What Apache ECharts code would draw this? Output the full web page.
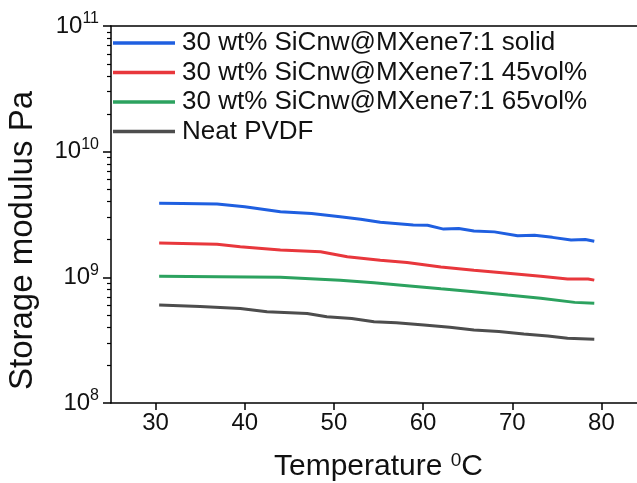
<!DOCTYPE html>
<html><head><meta charset="utf-8">
<script src="https://cdn.jsdelivr.net/npm/echarts@6/dist/echarts.min.js"></script>
<style>html,body{margin:0;padding:0;background:#fff}#c{width:637px;height:483px}</style>
</head><body><div id="c"></div>
<script>
var seriesNames = ["30 wt% SiCnw@MXene7:1 solid","30 wt% SiCnw@MXene7:1 45vol%","30 wt% SiCnw@MXene7:1 65vol%","Neat PVDF"];
var solidT = [30.4,33,36.9,40,44,47.5,50.7,53,55.2,58.9,60.5,62.3,64,65.7,68,70.6,72.5,74.5,76.6,78.2,79.2];
var solidV = [3.88e9,3.87e9,3.83e9,3.65e9,3.33e9,3.22e9,3.03e9,2.9e9,2.74e9,2.61e9,2.6e9,2.42e9,2.45e9,2.34e9,2.3e9,2.14e9,2.16e9,2.08e9,1.98e9,2.0e9,1.94e9];
var vol45T = [30.4,36.9,39.5,44,48.5,51.5,55.2,58.2,62,65.7,69.5,73.2,76.2,78.5,79.2];
var vol45V = [1.88e9,1.83e9,1.75e9,1.65e9,1.6e9,1.46e9,1.37e9,1.31e9,1.21e9,1.14e9,1.08e9,1.02e9,0.97e9,0.97e9,0.95e9];
var vol65T = [30.4,37,44,50.7,54.5,58.2,62,65.7,69.5,73.2,77,79.2];
var vol65V = [1.02e9,1.01e9,1.0e9,0.95e9,0.905e9,0.858e9,0.81e9,0.769e9,0.722e9,0.681e9,0.632e9,0.621e9];
var neatT = [30.4,35,39.5,42.5,47,49.2,52,54.5,57,60.1,63,65.7,68.5,71.3,74,76.2,79.2];
var neatV = [6.03e8,5.85e8,5.66e8,5.32e8,5.16e8,4.85e8,4.7e8,4.43e8,4.35e8,4.18e8,4.0e8,3.81e8,3.7e8,3.54e8,3.42e8,3.27e8,3.21e8];
var colors = ["#1f5fe0","#e8373c","#2ca25f","#4d4d4d"];
var xTicks = [30,40,50,60,70,80];
var yMajor = [1e8,1e9,1e10,1e11];
var yMinor = [2e8,3e8,4e8,5e8,6e8,7e8,8e8,9e8,2e9,3e9,4e9,5e9,6e9,7e9,8e9,9e9,2e10,3e10,4e10,5e10,6e10,7e10,8e10,9e10];

function pairs(t, v){ return t.map(function(x,i){ return [x, v[i]]; }); }
var allData = [pairs(solidT,solidV), pairs(vol45T,vol45V), pairs(vol65T,vol65V), pairs(neatT,neatV)];
var font = "Liberation Sans, Arial, sans-serif";
var W = 637, gridLeft = 111, gridRight = -9;
var chart = echarts.init(document.getElementById('c'));
chart.setOption({
  animation: false,
  backgroundColor: '#fff',
  grid: {left: gridLeft, top: 26, right: gridRight, bottom: 80, show: false, outerBoundsMode: 'none', containLabel: false},
  legend: {
    orient: 'vertical', left: 113, top: 30, padding: 0, itemGap: 3.5,
    itemWidth: 62, itemHeight: 3.5, icon: 'rect',
    textStyle: {fontFamily: font, fontSize: 26, color: '#111', lineHeight: 24, padding: [0,0,0,2]},
    data: seriesNames
  },
  xAxis: [{
    type: 'value', min: 25, max: 85, interval: 5,
    axisLine: {lineStyle: {color: '#000', width: 1.5}},
    axisTick: {show: true, length: 7, lineStyle: {color: '#000', width: 1.5}, customValues: xTicks},
    minorTick: {show: false},
    splitLine: {show: false},
    axisLabel: {fontFamily: font, fontSize: 24, color: '#111', margin: 8, customValues: xTicks, hideOverlap: false},
    name: 'Temperature {sup|0}C', nameLocation: 'middle', nameGap: 48,
    nameTextStyle: {fontFamily: font, fontSize: 30, color: '#111', rich: {sup: {fontFamily: font, fontSize: 19, verticalAlign: 'top', padding: [0,0,12,0], color: '#111'}}}
  }, {
    type: 'value', min: 25, max: 85, position: 'top',
    axisLine: {show: true, lineStyle: {color: '#000', width: 1.5}},
    axisTick: {show: false}, axisLabel: {show: false}, splitLine: {show: false}
  }],
  yAxis: [{
    type: 'log', logBase: 10, min: 1e8, max: 1e11, position: 'left',
    axisLine: {lineStyle: {color: '#000', width: 1.5}},
    axisTick: {show: true, length: 8, lineStyle: {color: '#000', width: 1.5}, customValues: yMajor},
    splitLine: {show: false},
    axisLabel: {
      fontFamily: font, fontSize: 24, color: '#111', margin: 12, customValues: yMajor,
      formatter: function(v){ return '10{s|' + Math.round(Math.log10(v)) + '}'; },
      rich: {s: {fontFamily: font, fontSize: 16, color: '#111', padding: [0,0,14,0]}}
    },
    name: 'Storage modulus Pa', nameLocation: 'middle', nameGap: 72,
    nameTextStyle: {fontFamily: font, fontSize: 33, color: '#111', padding: [0,52,0,0]}
  }, {
    type: 'log', logBase: 10, min: 1e8, max: 1e11, position: 'right',
    offset: -(W - gridLeft - gridRight),
    axisLine: {show: false},
    axisTick: {show: true, inside: true, length: 4, lineStyle: {color: '#000', width: 1.2}, customValues: yMinor},
    axisLabel: {show: false},
    splitLine: {show: false}
  }],
  series: allData.map(function(d, i){
    return {name: seriesNames[i], type: 'line', data: d, showSymbol: false, smooth: false,
      lineStyle: {color: colors[i], width: 3}, itemStyle: {color: colors[i]}};
  })
});
</script></body></html>
